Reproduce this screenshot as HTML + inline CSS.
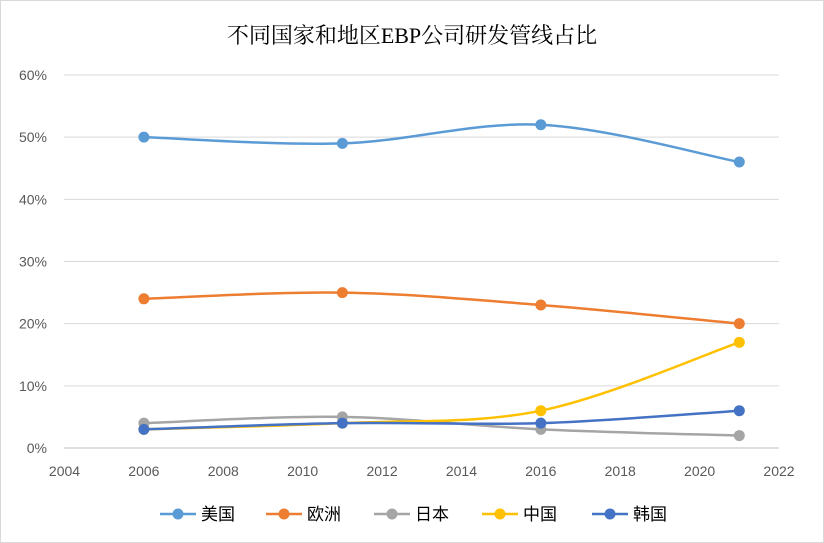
<!DOCTYPE html>
<html><head><meta charset="utf-8">
<style>
html,body{margin:0;padding:0;background:#fff;}
svg{display:block;}
text{font-family:"Liberation Sans","Noto Sans CJK SC",sans-serif;}
</style></head>
<body>
<svg id="chart" width="824" height="543" viewBox="0 0 824 543">
<rect x="0.5" y="0.5" width="823" height="542" fill="#fff" stroke="#d9d9d9"/>
<text x="412" y="43" text-anchor="middle" font-size="22" fill="#000" style="font-family:'Liberation Serif','Noto Serif CJK SC',serif">不同国家和地区EBP公司研发管线占比</text>
<g id="grid"></g><g id="axes"></g><g id="series"></g><g id="legend"></g>
</svg>
<script>
const years=[2006,2011,2016,2021];
const seriesNames=['美国','欧洲','日本','中国','韩国'];
const usVals=[50,49,52,46];
const euVals=[24,25,23,20];
const jpVals=[4,5,3,2];
const cnVals=[3,4,6,17];
const krVals=[3,4,4,6];
const xTicks=[2004,2006,2008,2010,2012,2014,2016,2018,2020,2022];
const yTicks=[0,10,20,30,40,50,60];
const colors=['#5B9BD5','#ED7D31','#A5A5A5','#FFC000','#4472C4'];
const allVals=[usVals,euVals,jpVals,cnVals,krVals];
const NS='http://www.w3.org/2000/svg';
const X=v=>64.5+(v-2004)*(714.5/18);
const Y=v=>448-v*(373/60);
function mk(tag,attrs,parent){const e=document.createElementNS(NS,tag);for(const k in attrs)e.setAttribute(k,attrs[k]);parent.appendChild(e);return e;}
const grid=document.getElementById('grid'),axes=document.getElementById('axes'),ser=document.getElementById('series'),leg=document.getElementById('legend');
yTicks.forEach(t=>{
 const l=mk('line',{x1:64,x2:779,y1:Y(t),y2:Y(t),stroke:t===0?'#bfbfbf':'#d9d9d9','stroke-width':1},grid);
 
 
 const tx=mk('text',{x:47,y:Y(t)+5,'text-anchor':'end','font-size':14,fill:'#595959'},axes);
 tx.textContent=t+'%';
 
 
});
xTicks.forEach(t=>{
 const tx=mk('text',{x:X(t),y:476,'text-anchor':'middle','font-size':14,fill:'#595959'},axes);
 tx.textContent=t;
 
 
});
function smooth(pts){
 let d='M'+pts[0][0]+','+pts[0][1];
 for(let i=0;i<pts.length-1;i++){
  const p0=pts[i-1]||pts[i],p1=pts[i],p2=pts[i+1],p3=pts[i+2]||p2,s=1/6;
  const c1=[p1[0]+(p2[0]-p0[0])*s,p1[1]+(p2[1]-p0[1])*s];
  const c2=[p2[0]-(p3[0]-p1[0])*s,p2[1]-(p3[1]-p1[1])*s];
  d+=' C'+c1+' '+c2+' '+p2;
 }
 return d;
}
allVals.forEach((vals,si)=>{
 const g=mk('g',{},ser);
 
 
 const pts=vals.map((v,i)=>[X(years[i]),Y(v)]);
 const p=mk('path',{d:smooth(pts),fill:'none',stroke:colors[si],'stroke-width':2.5},g);
 
 
 pts.forEach((q,i)=>{
  const c=mk('circle',{cx:q[0],cy:q[1],r:5.5,fill:colors[si]},g);
  
  
 });
});
const legX=[160,266,374,482,592];
seriesNames.forEach((n,i)=>{
 const g=mk('g',{},leg);
 
 
 mk('line',{x1:legX[i],x2:legX[i]+36,y1:514,y2:514,stroke:colors[i],'stroke-width':2.5},g);
 mk('circle',{cx:legX[i]+18,cy:514,r:5.5,fill:colors[i]},g);
 const t=mk('text',{x:legX[i]+41,y:520,'font-size':17,fill:'#000'},g);
 t.textContent=n;
});
</script>
</body></html>
